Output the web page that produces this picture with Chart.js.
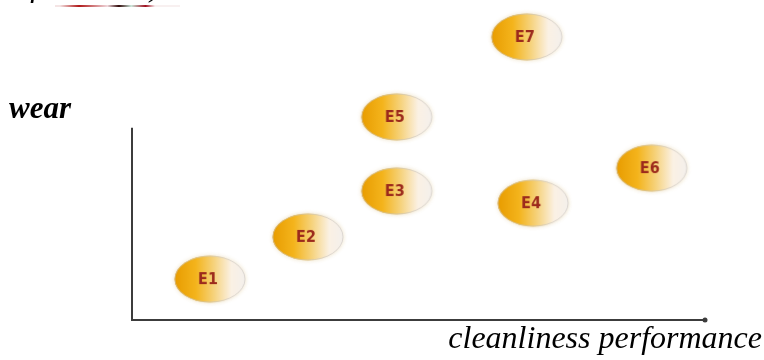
<!DOCTYPE html>
<html>
<head>
<meta charset="utf-8">
<script src="https://cdn.jsdelivr.net/npm/chart.js@4"></script>
<style>
  body { margin: 0; background: #fff; }
  canvas { display: block; }
</style>
</head>
<body>
<canvas id="grafico" width="764" height="360"></canvas>
<script>
// dados
var rotulos = ['E1', 'E2', 'E3', 'E4', 'E5', 'E6', 'E7'];
var limpeza = [1.36, 3.07, 4.62, 7.0, 4.62, 9.07, 6.89]; // eixo x
var desgaste = [1.32, 2.68, 4.16, 3.77, 6.55, 4.9, 9.13]; // eixo y
var topoEixoY = 6.2;

// desenha a "bolinha" amarela com o rotulo
function criarBadge(texto) {
    var c = document.createElement('canvas');
    c.width = 80;
    c.height = 56;
    var g = c.getContext('2d');
    var cx = 40, cy = 28, rx = 35.5, ry = 23.5;
    g.save();
    g.shadowColor = 'rgba(215,185,120,0.45)';
    g.shadowBlur = 4;
    var grad = g.createLinearGradient(cx - rx, 0, cx + rx, 0);
    grad.addColorStop(0, '#e89c00');
    grad.addColorStop(0.3, '#f4b41c');
    grad.addColorStop(0.55, '#f6d27a');
    grad.addColorStop(0.8, '#fbf1e4');
    grad.addColorStop(1, '#f4f0ec');
    g.fillStyle = grad;
    g.beginPath();
    g.ellipse(cx, cy, rx, ry, 0, 0, Math.PI * 2);
    g.fill();
    g.restore();
    g.strokeStyle = 'rgba(200,195,190,0.6)';
    g.lineWidth = 1;
    g.beginPath();
    g.ellipse(cx, cy, rx - 0.5, ry - 0.5, 0, 0, Math.PI * 2);
    g.stroke();
    g.fillStyle = '#9c2a1c';
    g.font = 'bold 16px "DejaVu Sans Condensed", "DejaVu Sans", sans-serif';
    g.textAlign = 'center';
    g.textBaseline = 'middle';
    g.fillText(texto, cx - 2, cy + 1);
    return c;
}

var badges = rotulos.map(criarBadge);
var pontos = limpeza.map(function (x, i) { return { x: x, y: desgaste[i] }; });

var eixosPlugin = {
    id: 'eixos',
    beforeDatasetsDraw: function (chart) {
        var ctx = chart.ctx;
        var sx = chart.scales.x;
        var sy = chart.scales.y;
        var x0 = sx.getPixelForValue(0);
        var x1 = sx.getPixelForValue(10);
        var y0 = sy.getPixelForValue(0);
        var yTop = sy.getPixelForValue(topoEixoY);
        ctx.save();
        ctx.strokeStyle = '#3c3c3c';
        ctx.lineWidth = 2;
        ctx.beginPath();
        ctx.moveTo(x0, yTop);
        ctx.lineTo(x0, y0);
        ctx.lineTo(x1, y0);
        ctx.stroke();
        ctx.fillStyle = '#3c3c3c';
        ctx.beginPath();
        ctx.arc(x1, y0, 2.5, 0, Math.PI * 2);
        ctx.fill();

        // titulos dos eixos
        ctx.fillStyle = '#000';
        ctx.font = 'italic bold 31px "Liberation Serif", "DejaVu Serif", serif';
        ctx.textAlign = 'left';
        ctx.textBaseline = 'alphabetic';
        ctx.fillText('wear', 9, 118);
        ctx.font = 'italic 32px "Liberation Serif", "DejaVu Serif", serif';
        ctx.textAlign = 'right';
        ctx.fillText('cleanliness performance', 762, 348);

        // pedaco de texto cortado no topo
        ctx.textAlign = 'left';
        ctx.font = 'italic 32px "Liberation Serif", serif';
        ctx.fillText('y of', -8, -4);
        var gr = ctx.createLinearGradient(60, 0, 155, 0);
        gr.addColorStop(0, '#f4e4e4');
        gr.addColorStop(0.2, '#b01818');
        gr.addColorStop(0.5, '#f0d8dc');
        gr.addColorStop(0.62, '#300808');
        gr.addColorStop(0.75, '#cce8dc');
        gr.addColorStop(0.9, '#a01020');
        gr.addColorStop(1, '#f8f0f0');
        ctx.strokeStyle = gr;
        ctx.lineWidth = 2;
        ctx.beginPath();
        ctx.moveTo(55, 6);
        ctx.lineTo(180, 6);
        ctx.stroke();
        ctx.fillStyle = '#000';
        ctx.fillText(')', 150, -4);
        ctx.restore();
    }
};

var ctx = document.getElementById('grafico').getContext('2d');
var grafico = new Chart(ctx, {
    type: 'scatter',
    data: {
        datasets: [{
            label: 'E',
            data: pontos,
            pointStyle: badges,
            pointRadius: 2,
            pointHoverRadius: 2,
            clip: false
        }]
    },
    options: {
        responsive: false,
        animation: false,
        events: [],
        layout: {
            autoPadding: false,
            padding: { left: 132, right: 59, top: 10, bottom: 40 }
        },
        plugins: {
            legend: { display: false },
            tooltip: { enabled: false }
        },
        scales: {
            x: { type: 'linear', min: 0, max: 10, display: false },
            y: { type: 'linear', min: 0, max: 10, display: false }
        }
    },
    plugins: [eixosPlugin]
});
</script>
</body>
</html>
